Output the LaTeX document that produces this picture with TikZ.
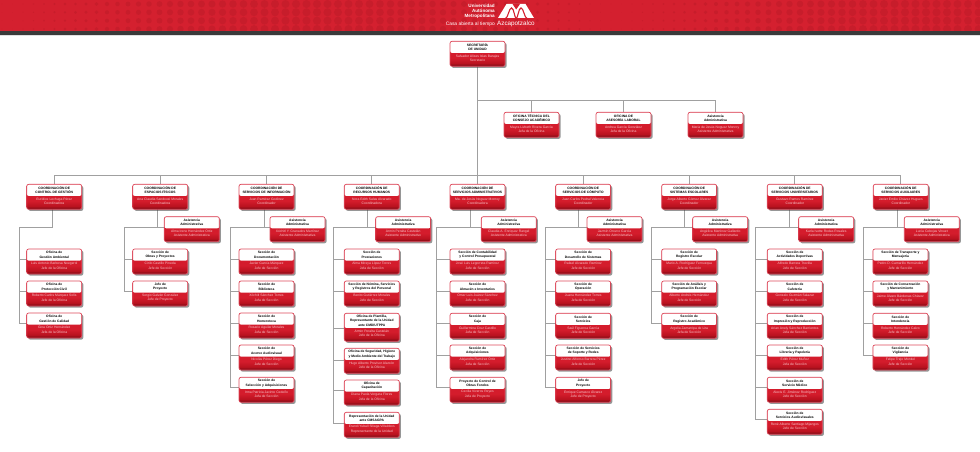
\documentclass[tikz,border=0pt]{standalone}
\usepackage{fontspec}
\setmainfont{Liberation Sans}
\usetikzlibrary{shadows,calc}
\pgfdeclarelayer{bg}
\pgfsetlayers{bg,main}
\definecolor{headred}{HTML}{D4202F}
\definecolor{dotred}{HTML}{C71D2B}
\definecolor{band}{HTML}{3A3A3A}
\definecolor{rbD}{HTML}{7E0A14}
\definecolor{rbM}{HTML}{B8121F}
\definecolor{rbL}{HTML}{D41C2C}
\definecolor{rbedge}{HTML}{DE4A5C}
\definecolor{connc}{HTML}{A0A0A0}
\definecolor{ptext}{HTML}{F8C4C9}
\pgfdeclareverticalshading{redbox}{100bp}{color(0bp)=(rbD); color(26bp)=(rbD); color(31bp)=(rbM); color(42bp)=(rbL); color(100bp)=(rbL)}
\tikzset{
  orgbox/.style={rectangle,rounded corners=2pt,draw=rbedge,line width=.7pt,shade,shading=redbox,
    minimum width=55pt,inner sep=0pt,outer sep=0pt,anchor=north west,
    drop shadow={shadow xshift=1.6pt,shadow yshift=-1.6pt,fill=black!75,opacity=.55}},
  titletext/.style={font=\fontsize{3.3}{4.3}\selectfont\bfseries,text=black,align=center,inner sep=0pt},
  persontext/.style={font=\fontsize{3.35}{4.3}\selectfont,text=ptext,align=center,inner sep=0pt},
  conn/.style={draw=connc,line width=1pt},
  headtext/.style={text=white,inner sep=0pt}
}
% [height]{name}{left}{top}{title}{person}{role}
\newcommand\obox[7][25]{%
  \pgfmathsetmacro\whiteh{#1-13.4}%
  \pgfmathsetmacro\titleoff{(#1-13.4)/2}%
  \pgfmathsetmacro\persoff{#1-8.2}%
  \node[orgbox,minimum height=#1pt,path picture={%
    \fill[white] (path picture bounding box.north west) rectangle
      ([yshift=-\whiteh pt]path picture bounding box.north east);}] (#2) at (#3,#4) {};
  \node[titletext] (#2-t) at ([yshift=-\titleoff pt]#2.north) {#5};
  \node[persontext] (#2-p) at ([yshift=-\persoff pt]#2.north) {#6\\#7};
}
% branch from box #2 (at #3 below its top) to the point #1
\newcommand\brn[3][10.5]{\draw[conn] ($(#3.north west)+(0,#1)$) -| (#2);}
\begin{document}
\begin{tikzpicture}[x=1pt,y=-1pt]
\useasboundingbox (0,0) rectangle (980,452);
% header
\fill[headred] (0,0) rectangle (980,31);
\begin{scope}
\clip (0,0) rectangle (980,31);
\foreach \yy in {4,12.3,20.7,29}{
  \foreach \ii in {0,...,93}{
    \pgfmathsetmacro\xx{2+10.5*\ii}
    \pgfmathsetmacro\rr{0.05+4.0*abs(sin((\xx-5)*0.294))}
    \fill[dotred] (\xx,\yy) circle[radius=\rr pt];
  }
}
\end{scope}
\fill[band] (0,31) rectangle (980,35);
\fill[black!12] (0,35) rectangle (980,36);
\node[headtext,anchor=east,font=\fontsize{4.6}{5.3}\selectfont\bfseries,align=right] (uam) at (495,11.2) {Universidad\\Autónoma\\Metropolitana};
\node[headtext,anchor=east,font=\fontsize{4.9}{6}\selectfont] (lema) at (495,24) {Casa abierta al tiempo};
\node[headtext,anchor=west,font=\fontsize{6.3}{7}\selectfont] (azc) at (497,24) {Azcapotzalco};
% logo
\fill[white] (498,18) -- (506.5,4) -- (525.5,4) -- (534,18) -- cycle;
\draw[headred,line width=1.1pt] (505.5,18.5) .. controls (508,18) and (509,8) .. (511.5,8) .. controls (514,8) and (514.5,18) .. (516.2,18.5);
\draw[headred,line width=1.1pt] (516.2,18.5) .. controls (518,18) and (518.5,8) .. (521,8) .. controls (523.5,8) and (524.5,18) .. (527,18.5);
\fill[headred] (512.5,4) -- (516.2,9.5) -- (520,4) -- cycle;

% top levels
\obox{top}{450}{41.3}{SECRETARÍA\\DE UNIDAD}{Salvador Ulises Islas Barajas}{Secretario}
\obox{o1}{504}{112.3}{OFICINA TÉCNICA DEL\\CONSEJO ACADÉMICO}{Mayra Lizbeth Rivera García}{Jefa de la Oficina}
\obox{o2}{596}{112.3}{OFICINA DE\\ASESORÍA LABORAL}{Andrea García González}{Jefa de la Oficina}
\obox{o3}{688}{112.3}{Asistencia\\Administrativa}{María de Jesús Noguez Monroy}{Asistente Administrativa}

% coordinations
\obox{c1}{26.7}{184.3}{COORDINACIÓN DE\\CONTROL DE GESTIÓN}{Eurídice Lechuga Pérez}{Coordinadora}
\obox{c2}{132.7}{184.3}{COORDINACIÓN DE\\ESPACIOS FÍSICOS}{Ana Claudia Sandoval Morales}{Coordinadora}
\obox{c3}{239}{184.3}{COORDINACIÓN DE\\SERVICIOS DE INFORMACIÓN}{Juan Ramírez Godínez}{Coordinador}
\obox{c4}{344.3}{184.3}{COORDINACIÓN DE\\RECURSOS HUMANOS}{Nora Edith Salas Alvarado}{Coordinadora}
\obox{c5}{450}{184.3}{COORDINACIÓN DE\\SERVICIOS ADMINISTRATIVOS}{Ma. de Jesús Noguez Monroy}{Coordinadora}
\obox{c6}{555.7}{184.3}{COORDINACIÓN DE\\SERVICIOS DE CÓMPUTO}{Juan Carlos Pedral Valencia}{Coordinador}
\obox{c7}{661.7}{184.3}{COORDINACIÓN DE\\SISTEMAS ESCOLARES}{Jorge Alberto Gómez Álvarez}{Coordinador}
\obox{c8}{767.3}{184.3}{COORDINACIÓN DE\\SERVICIOS UNIVERSITARIOS}{Gustavo Ramos Ramírez}{Coordinador}
\obox{c9}{873.3}{184.3}{COORDINACIÓN DE\\SERVICIOS AUXILIARES}{Javier Emilio Chávez Hugues}{Coordinador}

% assistants
\obox{a2}{164.3}{216.7}{Asistencia\\Administrativa}{Alma Irene Hernández Ortiz}{Asistente Administrativa}
\obox{a3}{270}{216.7}{Asistencia\\Administrativa}{Xóchitl Y. Granados Martínez}{Asistente Administrativa}
\obox{a4}{375.7}{216.7}{Asistencia\\Administrativa}{Armin Peralta Castelán}{Asistente Administrativo}
\obox{a5}{481.3}{216.7}{Asistencia\\Administrativa}{Claudia A. Enríquez Rangel}{Asistente Administrativa}
\obox{a6}{587}{216.7}{Asistencia\\Administrativa}{Jazmín Orozco García}{Asistente Administrativa}
\obox{a7}{692.7}{216.7}{Asistencia\\Administrativa}{Angélica Martínez Gallardo}{Asistente Administrativa}
\obox{a8}{798.7}{216.7}{Asistencia\\Administrativa}{Karla Ivette Rodas Rosales}{Asistente Administrativa}
\obox{a9}{904.3}{216.7}{Asistencia\\Administrativa}{Lucía Cebojas Vinuet}{Asistente Administrativa}

% column 1
\obox{s11}{26.7}{249}{Oficina de\\Gestión Ambiental}{Luis Antonio Barbosa Noegerol}{Jefe de la Oficina}
\obox{s12}{26.7}{281}{Oficina de\\Protección Civil}{Roberto Carlos Márquez Solís}{Jefe de la Oficina}
\obox{s13}{26.7}{313}{Oficina de\\Gestión de Calidad}{Gina Ortiz Hernández}{Jefa de la Oficina}
% column 2
\obox{s21}{132.7}{249}{Sección de\\Obras y Proyectos}{Cirilo Castillo Pineda}{Jefe de Sección}
\obox{s22}{132.7}{281}{Jefe de\\Proyecto}{Sergio Galván González}{Jefe de Proyecto}
% column 3
\obox{s31}{239}{249}{Sección de\\Documentación}{Javier García Márquez}{Jefe de Sección}
\obox{s32}{239}{281}{Sección de\\Biblioteca}{Xóchitl Sánchez Torres}{Jefa de Sección}
\obox{s33}{239}{313}{Sección de\\Hemeroteca}{Rosario Aguilar Morales}{Jefa de Sección}
\obox{s34}{239}{345}{Sección de\\Acervo Audiovisual}{Nicolás Pérez Diego}{Jefe de Sección}
\obox{s35}{239}{377.3}{Sección de\\Selección y Adquisiciones}{Irma Patricia Jacinto Cedeño}{Jefa de Sección}
% column 4
\obox{s41}{344.3}{249}{Sección de\\Prestaciones}{Alma Mireya López Torres}{Jefa de Sección}
\obox{s42}{344.3}{281}{Sección de Nómina, Servicios\\y Registros del Personal}{Benito Gutiérrez Morales}{Jefe de Sección}
\obox[28]{s43}{344.3}{313.3}{Oficina de Plantilla,\\Representante de la Unidad\\ante CMD/UTPPA}{Armin Peralta Castelán}{Jefe de la Oficina}
\obox{s44}{344.3}{348.3}{Oficina de Seguridad, Higiene\\y Medio Ambiente del Trabajo}{Hugo Alberto Provisor Alarcón}{Jefe de la Oficina}
\obox{s45}{344.3}{380}{Oficina de\\Capacitación}{Diana Paola Vergara Flores}{Jefa de la Oficina}
\obox{s46}{344.3}{412.3}{Representación de la Unidad\\ante CMSAGPA}{Erandi Yuball Siliaga Villalobos}{Representante de la Unidad}
% column 5
\obox{s51}{450}{249}{Sección de Contabilidad\\y Control Presupuestal}{José Luis Legorreta Ramírez}{Jefe de Sección}
\obox{s52}{450}{281}{Sección de\\Almacén e Inventarios}{Omar Luis Juárez Sánchez}{Jefe de Sección}
\obox{s53}{450}{313.3}{Sección de\\Caja}{Guillermina Cruz Castillo}{Jefa de Sección}
\obox{s54}{450}{345}{Sección de\\Adquisiciones}{Alejandra Ramírez Ortiz}{Jefa de Sección}
\obox{s55}{450}{377.3}{Proyecto de Control de\\Obras Fondos}{Cecilia Viveros Reyes}{Jefa de Proyecto}
% column 6
\obox{s61}{555.7}{249}{Sección de\\Desarrollo de Sistemas}{Rafael Alvarado Ramírez}{Jefe de Sección}
\obox{s62}{555.7}{281}{Sección de\\Operación}{Juana Hernández Torres}{Jefa de Sección}
\obox{s63}{555.7}{313.3}{Sección de\\Servicios}{Saúl Figueroa García}{Jefe de Sección}
\obox{s64}{555.7}{345}{Sección de Servicios\\de Soporte y Redes}{Justino Alfonso Barrera Pérez}{Jefe de Sección}
\obox{s65}{555.7}{377.3}{Jefe de\\Proyecto}{Enrique Carrasco Álvarez}{Jefe de Proyecto}
% column 7
\obox{s71}{661.7}{249}{Sección de\\Registro Escolar}{Mario A. Rodríguez Fernuzqua}{Jefe de Sección}
\obox{s72}{661.7}{281}{Sección de Análisis y\\Programación Escolar}{Alberto Andrés Hernández}{Jefe de Sección}
\obox{s73}{661.7}{313.3}{Sección de\\Registro Académico}{Argelia Zamarripa de Lira}{Jefa de Sección}
% column 8
\obox{s81}{767.3}{249}{Sección de\\Actividades Deportivas}{Alfredo Barrera Trevilla}{Jefe de Sección}
\obox{s82}{767.3}{281}{Sección de\\Cafetería}{Gonzalo Guzmán Salazar}{Jefe de Sección}
\obox{s83}{767.3}{313.3}{Sección de\\Impresión y Reproducción}{Arian Anely Sánchez Barrientos}{Jefa de Sección}
\obox{s84}{767.3}{345}{Sección de\\Librería y Papelería}{Edith Pérez Muñoz}{Jefa de Sección}
\obox{s85}{767.3}{377.3}{Sección de\\Servicio Médico}{Alexis E. Jiménez Rodríguez}{Jefe de Sección}
\obox{s86}{767.3}{409.3}{Sección de\\Servicios Audiovisuales}{René Alberto Santiago Mijangos}{Jefe de Sección}
% column 9
\obox{s91}{872.9}{249}{Sección de Transporte y\\Mensajería}{Pedro D. Camarillo Hernández}{Jefe de Sección}
\obox{s92}{872.9}{281}{Sección de Conservación\\y Mantenimiento}{Jaime Álvaro Bárdenas Chávez}{Jefe de Sección}
\obox{s93}{872.9}{313.3}{Sección de\\Intendencia}{Roberto Hernández Calvo}{Jefe de Sección}
\obox{s94}{872.9}{345}{Sección de\\Vigilancia}{Felipe Trejo Montiel}{Jefe de Sección}

% junction coordinates
\coordinate (busA) at (477.5,100);
\coordinate (busB) at (477.5,175.3);
\coordinate (d1) at (52.7,227.3);  \coordinate (t1) at (19,227.3);
\coordinate (d2) at (157.7,227.3); \coordinate (t2) at (124,227.3);
\coordinate (d3) at (264,227.3);   \coordinate (t3) at (230.7,227.3);
\coordinate (d4) at (367.3,227.3); \coordinate (t4) at (333.7,227.3);
\coordinate (d5) at (470,227.3);   \coordinate (t5) at (436.7,227.3);
\coordinate (d6) at (578.7,227.3); \coordinate (t6) at (545,227.3);
\coordinate (d7) at (684.7,227.3); \coordinate (t7) at (651.7,227.3);
\coordinate (d8) at (789,227.3);   \coordinate (t8) at (755.7,227.3);
\coordinate (d9) at (897.3,227.3); \coordinate (t9) at (863.3,227.3);

\begin{pgfonlayer}{bg}
\draw[conn] (top.south) -- (c5.north);
\foreach \n in {o1,o2,o3}{\draw[conn] (\n.north) |- (busA);}
\foreach \n in {c1,c2,c3,c4,c5,c6,c7,c8,c9}{\draw[conn] (\n.north) |- (busB);}
\foreach \k in {1,...,9}{\draw[conn] (d\k |- c\k.south) -- (d\k) -- (t\k);}
\foreach \k in {2,...,9}{\brn[10.6]{d\k}{a\k}}
\foreach \n in {s11,s12,s13}{\brn{t1}{\n}}
\foreach \n in {s21,s22}{\brn{t2}{\n}}
\foreach \n in {s31,s32,s33,s34,s35}{\brn{t3}{\n}}
\foreach \n in {s41,s42}{\brn{t4}{\n}}
\brn[15]{t4}{s43}
\brn[11.7]{t4}{s44}
\brn[10.7]{t4}{s45}
\brn[11]{t4}{s46}
\foreach \n in {s51,s52,s53,s54,s55}{\brn{t5}{\n}}
\foreach \n in {s61,s62,s63,s64,s65}{\brn{t6}{\n}}
\foreach \n in {s71,s72,s73}{\brn{t7}{\n}}
\foreach \n in {s81,s82,s83,s84,s85,s86}{\brn{t8}{\n}}
\foreach \n in {s91,s92,s93,s94}{\brn{t9}{\n}}
\end{pgfonlayer}
\end{tikzpicture}
\end{document}
